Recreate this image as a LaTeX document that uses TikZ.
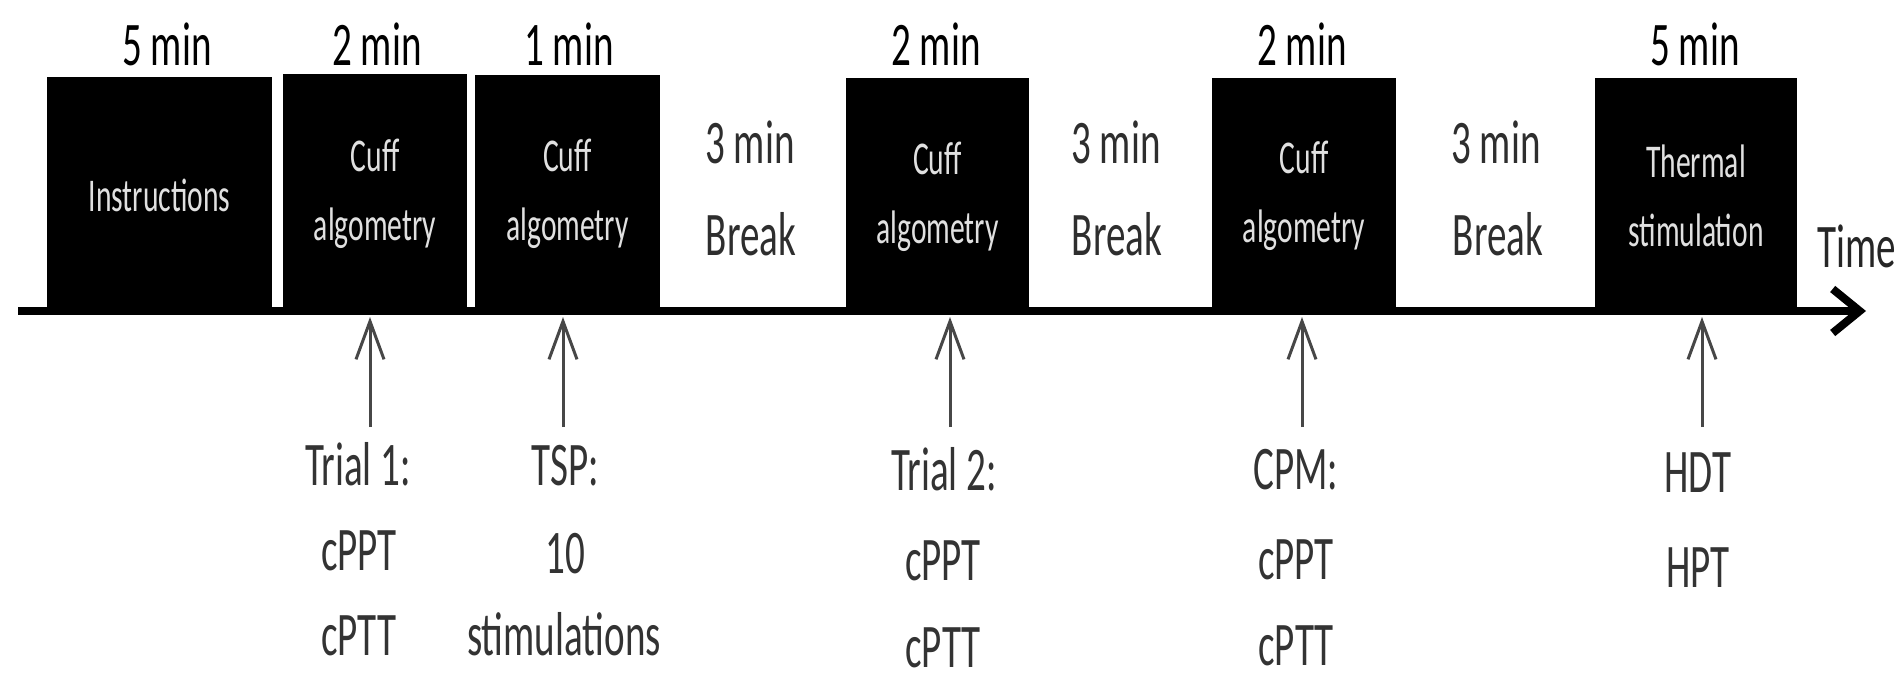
\documentclass[tikz,border=0pt]{standalone}
\usepackage{fontspec}
\setmainfont[FakeStretch=0.63]{Carlito}
\usetikzlibrary{arrows.meta}
\begin{document}
\begin{tikzpicture}[x=0.5pt,y=-0.5pt,
  phase/.style={fill=black, draw=none, inner sep=0pt, align=center,
    text=white!88!black, font=\fontsize{23.5}{34.5}\selectfont},
  dur/.style={anchor=base, inner sep=0pt, text=black, font=\fontsize{31}{36}\selectfont},
  brk/.style={anchor=base, inner sep=0pt, text=black!82, font=\fontsize{31}{36}\selectfont},
  lab/.style={anchor=base, inner sep=0pt, text=black!80, font=\fontsize{31}{36}\selectfont},
  axisline/.style={line width=4pt, -{Straight Barb[length=13.5pt,width=22pt]}},
  marker/.style={line width=1.5pt, draw=black!72, -{Straight Barb[length=19pt,width=14pt]}}
]
\useasboundingbox (0,0) rectangle (1902,686);

% phase boxes
\node[phase, minimum width=112.5pt, minimum height=118pt] (b1) at (159.5,195) {Instructions};
\node[phase, minimum width=92pt, minimum height=119.5pt] (b2) at (375,193.5) {Cuff\\algometry};
\node[phase, minimum width=92.5pt, minimum height=119pt] (b3) at (567.5,194) {Cuff\\algometry};
\node[phase, minimum width=91.5pt, minimum height=118.5pt] (b4) at (937.5,196.5) {Cuff\\algometry};
\node[phase, minimum width=92pt, minimum height=117.5pt] (b5) at (1304,195.5) {Cuff\\algometry};
\node[phase, minimum width=101pt, minimum height=117.5pt] (b6) at (1696,195.5) {Thermal\\stimulation};

% durations
\node[dur] (d1) at (167,65) {5 min};
\node[dur] (d2) at (377,65) {2 min};
\node[dur] (d3) at (569,65) {1 min};
\node[dur] (d4) at (936,65) {2 min};
\node[dur] (d5) at (1302,65) {2 min};
\node[dur] (d6) at (1695,65) {5 min};

% breaks
\node[brk] (k1a) at (750,163) {3 min};
\node[brk] (k1b) at (751,255) {Break};
\node[brk] (k2a) at (1116,163) {3 min};
\node[brk] (k2b) at (1117,255) {Break};
\node[brk] (k3a) at (1496,163) {3 min};
\node[brk] (k3b) at (1498,255) {Break};

% time axis
\coordinate (axs) at (18,311);
\coordinate (axe) at (1866,311);
\draw[axisline] (axs) -- (axe);
\node[lab, text=black!85] (time) at (1857,267) {Time};

% bottom labels
\node[lab] (t1a) at (358,485) {Trial 1:};
\node[lab] (t1b) at (359,570) {cPPT};
\node[lab] (t1c) at (359,655) {cPTT};
\node[lab] (t2a) at (565,485) {TSP:};
\node[lab] (t2b) at (565,573) {10};
\node[lab] (t2c) at (564,655) {stimulations};
\node[lab] (t3a) at (944,490) {Trial 2:};
\node[lab] (t3b) at (943,580) {cPPT};
\node[lab] (t3c) at (943,667) {cPTT};
\node[lab] (t4a) at (1296,489) {CPM:};
\node[lab] (t4b) at (1296,579) {cPPT};
\node[lab] (t4c) at (1296,665) {cPTT};
\node[lab] (t5a) at (1698,492) {HDT};
\node[lab] (t5b) at (1698,587) {HPT};

% markers
\coordinate (m1s) at (370,427); \coordinate (m1e) at (370,317);
\coordinate (m2s) at (563,427); \coordinate (m2e) at (563,317);
\coordinate (m3s) at (950,427); \coordinate (m3e) at (950,317);
\coordinate (m4s) at (1302,427); \coordinate (m4e) at (1302,317);
\coordinate (m5s) at (1702,427); \coordinate (m5e) at (1702,317);
\draw[marker] (m1s) -- (m1e);
\draw[marker] (m2s) -- (m2e);
\draw[marker] (m3s) -- (m3e);
\draw[marker] (m4s) -- (m4e);
\draw[marker] (m5s) -- (m5e);
\end{tikzpicture}
\end{document}
